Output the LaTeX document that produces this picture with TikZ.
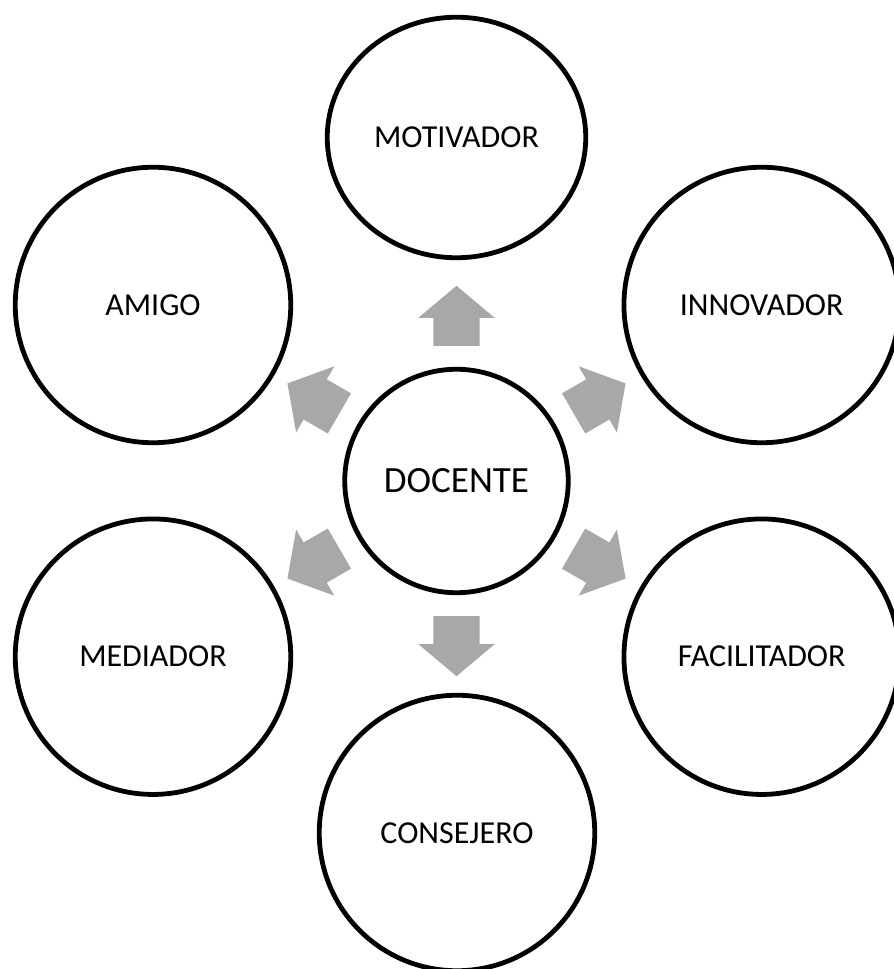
\documentclass[tikz,border=0pt]{standalone}
\usepackage{fontspec}
\setmainfont{Carlito}
\usetikzlibrary{calc, shapes.geometric, shapes.arrows}
\definecolor{gris}{RGB}{168,168,168}
\tikzstyle{rol}=[shape=ellipse, draw=black, line width=4.8pt, inner sep=0, minimum width=275.5pt, minimum height=275.5pt, font=\fontsize{32}{38}\selectfont]
\tikzstyle{flecha}=[single arrow, fill=gris, draw=none, inner xsep=0, inner ysep=23pt, minimum width=76pt, minimum height=60pt, single arrow head extend=15pt, single arrow tip angle=100, anchor=tail]

\begin{document}
\begin{tikzpicture}[x=1pt, y=1pt]
\useasboundingbox (0,0) rectangle (894,969);
% centro
\node[rol, minimum width=223.5pt, minimum height=223.5pt, font=\fontsize{37}{44}\selectfont] (doc) at (456.5,488) {DOCENTE};
% roles alrededor
\node[rol, minimum width=258.5pt, minimum height=240.5pt] (mot) at (456.5,831.5) {MOTIVADOR};
\node[rol] (inn) at (761.7,664) {INNOVADOR};
\node[rol] (fac) at (761.7,312.3) {FACILITADOR};
\node[rol] (con) at (457,136) {CONSEJERO};
\node[rol] (med) at (153,312.3) {MEDIADOR};
\node[rol] (ami) at (153,664) {AMIGO};
% flechas
\foreach \ang/\nom in {90/fmot, 30/finn, -30/ffac, -90/fcon, -150/fmed, 150/fami}
	{\node[flecha, rotate=\ang] (\nom) at ($(doc)+(\ang:135pt)$) {};}
\end{tikzpicture}
\end{document}
